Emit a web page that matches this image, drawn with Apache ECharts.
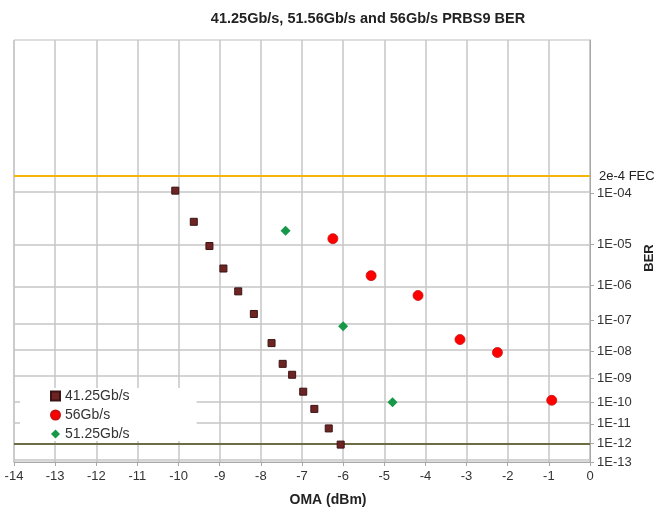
<!DOCTYPE html>
<html>
<head>
<meta charset="utf-8">
<script src="https://cdn.jsdelivr.net/npm/echarts@6/dist/echarts.min.js"></script>
<style>
  html, body { margin: 0; padding: 0; background: #fff; }
  #chart { width: 657px; height: 512px; }
</style>
</head>
<body>
<div id="chart"></div>
<script>
const titleText = '41.25Gb/s, 51.56Gb/s and 56Gb/s PRBS9 BER'
const seriesNames = ['41.25Gb/s', '56Gb/s', '51.25Gb/s']

// OMA (dBm) / BER
const oma41 = [-10.08, -9.63, -9.25, -8.91, -8.55, -8.17, -7.74, -7.47, -7.24, -6.97, -6.70, -6.35, -6.06]
const ber41 = [1.1e-4, 2.9e-5, 9e-6, 2.7e-6, 7e-7, 1.6e-7, 1.9e-8, 3.5e-9, 1.35e-9, 2.8e-10, 5e-11, 6e-12, 9e-13]
const oma56 = [-6.25, -5.32, -4.18, -3.16, -2.25, -0.93]
const ber56 = [1.3e-5, 1.8e-6, 5.4e-7, 2.5e-8, 9e-9, 1.2e-10]
const oma51 = [-7.40, -6.00, -4.80]
const ber51 = [1.9e-5, 6.7e-8, 1e-10]

const berTickExponents = [4, 5, 6, 7, 8, 9, 10, 11, 12, 13]
const fecBer = 2e-4
const floorBer = 1e-12
const berTop = 9e-3
const berBottom = 1e-13
const omaMin = -14
const omaMax = 0

// BER paper scale: log(-log(BER))
const toAxis = ber => Math.log10(-Math.log10(ber))
const pairs = (xs, ys) => xs.map((x, i) => [x, toAxis(ys[i])])
const tickValues = berTickExponents.map(n => toAxis(Math.pow(10, -n)))

const chart = echarts.init(document.getElementById('chart'))

chart.setOption({
  animation: false,
  textStyle: { fontFamily: 'Liberation Sans, Arial, sans-serif' },
  title: {
    text: titleText,
    left: 363,
    textAlign: 'center',
    top: 6,
    textStyle: { fontSize: 14.5, fontWeight: 'bold', color: '#222' }
  },
  grid: {
    left: 14,
    right: 67,
    top: 40,
    bottom: 50,
    show: true,
    borderColor: '#bdbdbd',
    borderWidth: 1,
    outerBoundsMode: 'none'
  },
  legend: {
    orient: 'vertical',
    left: 20,
    top: 388,
    z: 10,
    padding: [1, 67, 0, 30],
    backgroundColor: '#fff',
    itemWidth: 9,
    itemHeight: 9,
    itemGap: 5,
    textStyle: { fontSize: 14, color: '#333', lineHeight: 14 },
    data: [
      { name: seriesNames[0], icon: 'rect' },
      { name: seriesNames[1], icon: 'circle' },
      { name: seriesNames[2], icon: 'diamond' }
    ]
  },
  xAxis: {
    type: 'value',
    min: omaMin,
    max: omaMax,
    interval: 1,
    name: 'OMA (dBm)',
    nameLocation: 'middle',
    nameGap: 31,
    nameTextStyle: { fontSize: 14, fontWeight: 'bold', color: '#222', padding: [0, 0, 0, 52] },
    axisLine: { lineStyle: { color: '#a8a8a8' } },
    axisTick: { show: true, length: 4, lineStyle: { color: '#a8a8a8' } },
    axisLabel: { fontSize: 13, color: '#333', margin: 8 },
    splitLine: { show: true, lineStyle: { color: '#c6c6c6', width: 1.5 } }
  },
  yAxis: {
    type: 'value',
    position: 'right',
    inverse: true,
    min: toAxis(berTop),
    max: toAxis(berBottom),
    name: 'BER',
    nameLocation: 'middle',
    nameRotate: 90,
    nameGap: 36,
    nameTextStyle: { fontSize: 13, fontWeight: 'bold', color: '#222', padding: [0, 14, 0, 0] },
    axisLine: { show: true, lineStyle: { color: '#a8a8a8' } },
    axisTick: { show: true, length: 4, customValues: tickValues, lineStyle: { color: '#a8a8a8' } },
    axisLabel: {
      fontSize: 13,
      color: '#333',
      margin: 7,
      customValues: tickValues,
      formatter: v => '1E-' + String(Math.round(Math.pow(10, v))).padStart(2, '0')
    },
    splitLine: { show: false }
  },
  series: [
    {
      name: seriesNames[0],
      type: 'scatter',
      symbol: 'rect',
      symbolSize: 7,
      itemStyle: { color: '#6f2424', borderColor: '#3a1414', borderWidth: 1, opacity: 1 },
      data: pairs(oma41, ber41),
      z: 3
    },
    {
      name: seriesNames[1],
      type: 'scatter',
      symbol: 'circle',
      symbolSize: 10,
      itemStyle: { color: '#ff0000', borderColor: '#c81010', borderWidth: 0.8, opacity: 1 },
      data: pairs(oma56, ber56),
      z: 3
    },
    {
      name: seriesNames[2],
      type: 'scatter',
      symbol: 'diamond',
      symbolSize: 10,
      itemStyle: { color: '#179848', opacity: 1 },
      data: pairs(oma51, ber51),
      z: 3
    },
    {
      name: 'levels',
      type: 'scatter',
      data: [],
      silent: true,
      z: 1,
      markLine: {
        silent: true,
        symbol: 'none',
        animation: false,
        z: 1,
        data: [
          ...tickValues.map(v => ({
            yAxis: v,
            lineStyle: { color: '#c6c6c6', width: 1.5, type: 'solid' },
            label: { show: false }
          })),
          {
            yAxis: toAxis(fecBer),
            lineStyle: { color: '#f5b50a', width: 2, type: 'solid' },
            label: { show: true, position: 'end', distance: 9, formatter: '2e-4 FEC', color: '#222', fontSize: 13 }
          },
          {
            yAxis: toAxis(floorBer),
            lineStyle: { color: '#6b6d45', width: 2, type: 'solid' },
            label: { show: false }
          }
        ]
      }
    }
  ]
})
</script>
</body>
</html>
